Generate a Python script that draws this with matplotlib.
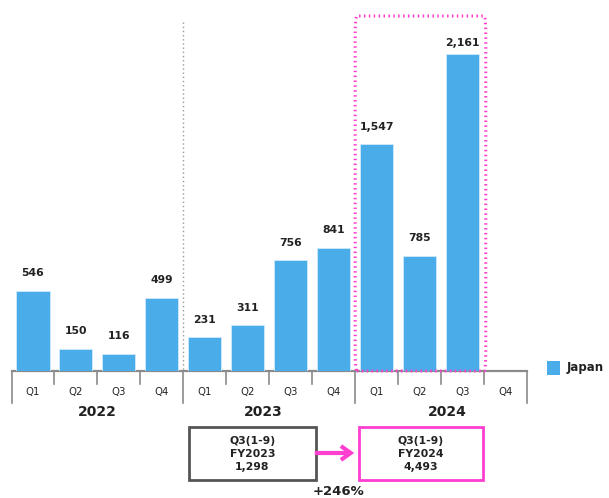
import matplotlib
matplotlib.use("Agg")
import matplotlib.pyplot as plt
from matplotlib.patches import FancyBboxPatch, Rectangle, FancyArrowPatch
import matplotlib.transforms as mtransforms

quarters = ["Q1", "Q2", "Q3", "Q4"] * 3
years = ["2022", "2023", "2024"]
values = [546, 150, 116, 499, 231, 311, 756, 841, 1547, 785, 2161, None]
series_name = "Japan"
box_left = ["Q3(1-9)", "FY2023", "1,298"]
box_right = ["Q3(1-9)", "FY2024", "4,493"]
growth = "+246%"

W, H = 609, 498
fig = plt.figure(figsize=(W / 100, H / 100), dpi=100)
plt.rcParams['font.family'] = ['DejaVu Sans']

def fx(px):
    return px / W

def fy(py):
    return 1 - py / H

ax = fig.add_axes([fx(11.5), fy(371), fx(527) - fx(11.5), fy(16) - fy(371)])
blue = "#4BACEA"
pink = "#FF3FD0"
n = len(values)
xs = list(range(n))
vals = [v if v is not None else 0 for v in values]
ax.bar(xs, vals, width=0.77, color=blue, edgecolor="#CFEAFB", linewidth=0.6, zorder=3)
ax.set_xlim(-0.5, n - 0.5)
ax.set_ylim(0, 2420)
for s in ["left", "right", "top"]:
    ax.spines[s].set_visible(False)
ax.spines["bottom"].set_color("#8A8A8A")
ax.spines["bottom"].set_linewidth(1.6)
ax.set_yticks([])
ax.set_xticks([])

# value labels
for i, v in enumerate(values):
    if v is None:
        continue
    off = 4 if v == max(vals) else 9
    ax.annotate(f"{v:,}", (i, v), xytext=(0, off), textcoords="offset points",
                ha="center", va="bottom", fontsize=7.8, fontweight="bold", color="#222222")

trans = mtransforms.blended_transform_factory(ax.transData, fig.transFigure)
# separators below the axis
for k in range(n + 1):
    xb = k - 0.5
    long = (k % 4 == 0)
    y0 = fy(371)
    y1 = fy(403) if long else fy(384)
    ax.plot([xb, xb], [y0, y1], transform=trans, color="#8A8A8A", lw=1.2, clip_on=False)

# quarter labels
for i, q in enumerate(quarters):
    ax.text(i, fy(392), q, transform=trans, ha="center", va="center", fontsize=7.3, color="#222222")
# year labels
year_pos = [1.5, 5.35, 9.65]
for xp, yr in zip(year_pos, years):
    ax.text(xp, fy(412), yr, transform=trans, ha="center", va="center",
            fontsize=10, fontweight="bold", color="#222222")

# gray dotted divider
ax.plot([3.5, 3.5], [fy(22), fy(371)], transform=trans, color="#9A9A9A", lw=1.0,
        linestyle=(0, (1, 2)), clip_on=False, zorder=1)

# pink dotted rounded box around FY2024 Q1-Q3
x0p, x1p = 7.5, 10.54
rect = FancyBboxPatch((x0p, fy(371)), x1p - x0p, fy(16) - fy(371),
                      boxstyle="round,pad=0,rounding_size=0.04", transform=trans,
                      fill=False, edgecolor=pink, lw=2.2, linestyle=(0, (0.5, 1.1)),
                      clip_on=False, zorder=4)
ax.add_patch(rect)

# legend
fig.patches.append(Rectangle((fx(547), fy(375)), fx(13), fy(361) - fy(375), transform=fig.transFigure,
                             facecolor=blue, edgecolor="none"))
fig.text(fx(567), fy(368), series_name, ha="left", va="center", fontsize=8.5, fontweight="bold",
         color="#222222")

# comparison boxes
def box(xl, xr, yt, yb, color, lines):
    fig.patches.append(Rectangle((fx(xl), fy(yb)), fx(xr) - fx(xl), fy(yt) - fy(yb),
                                 transform=fig.transFigure, fill=False, edgecolor=color, lw=2.0))
    cx = (xl + xr) / 2
    for k, t in enumerate(lines):
        fig.text(fx(cx), fy(441 + 13 * k), t, ha="center", va="center", fontsize=7.8,
                 fontweight="bold", color="#222222")

box(189, 316, 427, 480, "#555555", box_left)
box(359, 483, 427, 480, pink, box_right)
arr = FancyArrowPatch((fx(312), fy(453)), (fx(357), fy(453)), transform=fig.transFigure,
                      arrowstyle="->,head_length=7,head_width=5", color=pink, lw=3.0,
                      mutation_scale=1.0, capstyle="butt", joinstyle="miter")
fig.patches.append(arr)
fig.text(fx(338), fy(491), growth, ha="center", va="center", fontsize=9.5, fontweight="bold",
         color="#222222")

fig.savefig("out.png", dpi=100)
